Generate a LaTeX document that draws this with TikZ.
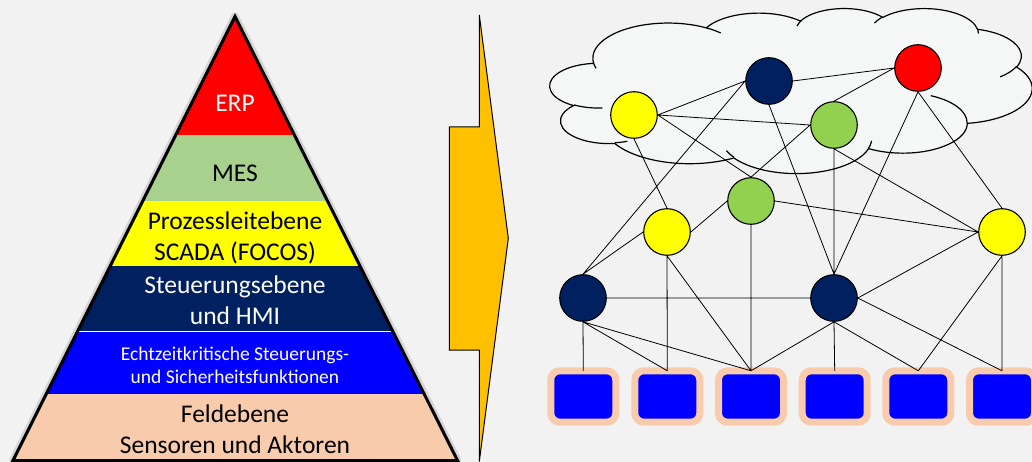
\documentclass[tikz,border=0pt]{standalone}
\usepackage{fontspec}
\setmainfont{Carlito}
\definecolor{bg}{HTML}{F2F2F2}
\definecolor{cloudfill}{HTML}{F5F6F6}
\definecolor{erpred}{HTML}{FF0000}
\definecolor{mesgreen}{HTML}{A9D18E}
\definecolor{scadayellow}{HTML}{FFFF00}
\definecolor{navy}{HTML}{002060}
\definecolor{rtblue}{HTML}{0000FF}
\definecolor{peach}{HTML}{F8CBAD}
\definecolor{arrowc}{HTML}{FFC000}
\definecolor{ngreen}{HTML}{92D050}
\tikzset{
  ooarc/.style args={#1/#2/#3/#4}{insert path={
    arc[start angle={atan2(#1*sin(#3),#2*cos(#3))},
        delta angle={mod(atan2(#1*sin(#3+#4),#2*cos(#3+#4))-atan2(#1*sin(#3),#2*cos(#3))+720,360)},
        x radius=#1, y radius=#2]}},
  lvl/.style={font=\fontsize{25.5}{31}\selectfont, anchor=base, inner sep=0pt},
  lvlsmall/.style={font=\fontsize{19.5}{24}\selectfont, anchor=base, inner sep=0pt},
  net/.style={circle, draw=black, line width=1.1pt, minimum size=46.6pt, inner sep=0pt},
  dev/.style={rectangle, rounded corners=9pt, fill=rtblue, draw=peach, line width=7pt,
              minimum width=65pt, minimum height=51.4pt, inner sep=0pt, outer sep=0pt},
  link/.style={draw=black, line width=0.8pt},
}
\begin{document}
\begin{tikzpicture}[x=1pt, y=-1pt]
\useasboundingbox (0,0) rectangle (1032,462);
\fill[bg] (0,0) rectangle (1032,462);

% ---------- pyramid ----------
\coordinate (apex) at (235,16.5);
\coordinate (bl) at (13,460.5);
\coordinate (br) at (457.5,460.5);
\draw[black, opacity=0.12, line width=8pt, line join=round, shift={(1.5,1.5)}] (apex) -- (bl) -- (br) -- cycle;
\begin{scope}
  \clip (apex) -- (bl) -- (br) -- cycle;
  \fill[erpred] (0,0) rectangle (470,135);
  \fill[mesgreen] (0,135) rectangle (470,201);
  \fill[scadayellow] (0,201) rectangle (470,266);
  \fill[navy] (0,266) rectangle (470,331);
  \fill[rtblue] (0,331) rectangle (470,394);
  \fill[peach] (0,394) rectangle (470,462);
  \draw[white, line width=1pt] (0,331) -- (470,331);
\end{scope}
\draw[black, line width=3pt, line join=miter] (apex) -- (bl) -- (br) -- cycle;

\node[lvl, text=white] (erp) at (235,111.7) {ERP};
\node[lvl] (mes) at (235,181.7) {MES};
\node[lvl] (pl1) at (235,229.3) {Prozessleitebene};
\node[lvl] (pl2) at (235,260) {SCADA (FOCOS)};
\node[lvl, text=white] (st1) at (235,293.3) {Steuerungsebene};
\node[lvl, text=white] (st2) at (235,324) {und HMI};
\node[lvlsmall, text=white] (ez1) at (235,360) {Echtzeitkritische Steuerungs-};
\node[lvlsmall, text=white] (ez2) at (235,383.3) {und Sicherheitsfunktionen};
\node[lvl] (fe1) at (235,422.7) {Feldebene};
\node[lvl] (fe2) at (235,453.3) {Sensoren und Aktoren};

% ---------- arrow ----------
\draw[fill=arrowc, line width=1pt, line join=miter]
  (479.3,15) -- (508.3,238.3) -- (479.3,461.5) -- (479.3,350) -- (449.3,350)
  -- (449.3,127) -- (479.3,127) -- cycle;

% ---------- cloud ----------
\begin{scope}[shift={(550,8)}, x=11.1574pt, y=-3.8194pt]
  \draw[line width=1.2pt, fill=cloudfill] (3.9,14.37)
    [ooarc=6.753/9.19/-190.4875/123.7805]
    [ooarc=5.333/7.267/-144.1024/89.9452]
    [ooarc=4.365/5.945/-145.8079/99.7230]
    [ooarc=4.857/6.595/-130.9861/117.2417]
    [ooarc=5.333/7.273/-78.7089/109.0269]
    [ooarc=6.775/9.22/-46.2673/130.2690]
    [ooarc=5.785/7.867/0.6250/114.0333]
    [ooarc=6.752/9.215/22.4516/115.1726]
    [ooarc=7.72/10.543/66.2426/75.7110]
    [ooarc=4.36/5.918/-274.9421/146.7356]
    [ooarc=4.345/5.945/-246.8285/152.5189] -- cycle;
  \draw[line width=1.2pt]
    (4.693,26.177) [ooarc=4.345/5.945/86.7420/26.4295]
    (6.928,34.899) [ooarc=4.36/5.918/73.6105/11.4475]
    (16.478,39.09) [ooarc=6.752/9.215/137.6242/14.0811]
    (28.827,34.751) [ooarc=6.752/9.215/6.4533/15.9984]
    (34.129,22.954) [ooarc=5.785/7.867/-70.2924/70.9174]
    (41.798,15.354) [ooarc=5.333/7.273/30.3180/27.7515]
    (38.324,5.426) [ooarc=4.857/6.595/-13.7443/14.8538]
    (29.078,3.952) [ooarc=4.857/6.595/-149.1815/18.1959]
    (22.141,4.72) [ooarc=4.365/5.945/-163.4943/17.6918]
    (14.0,5.192) [ooarc=6.753/9.19/-66.7070/12.3194]
    (4.127,15.789) [ooarc=6.753/9.19/157.6544/11.8582];
\end{scope}

% ---------- network ----------
\node[net, fill=navy] (n1) at (769,81) {};
\node[net, fill=erpred] (r1) at (918,68) {};
\node[net, fill=scadayellow] (y1) at (634,115) {};
\node[net, fill=ngreen] (g1) at (834,125) {};
\node[net, fill=ngreen] (g2) at (751,201) {};
\node[net, fill=scadayellow] (y2) at (667,232) {};
\node[net, fill=scadayellow] (y3) at (1002,232) {};
\node[net, fill=navy] (n2) at (583,298) {};
\node[net, fill=navy] (n3) at (834,298) {};

\node[dev] (b1) at (583.3,396.5) {};
\node[dev] (b2) at (667.3,396.5) {};
\node[dev] (b3) at (751,396.5) {};
\node[dev] (b4) at (834.7,396.5) {};
\node[dev] (b5) at (918.3,396.5) {};
\node[dev] (b6) at (1002,396.5) {};

\path[link]
  (n1.west) -- (y1.east)
  (n1.west) -- (n2.north)
  (n1.east) -- (r1.west)
  (n1.south) -- (n3.north)
  (r1.west) -- (g1.north)
  (r1.south) -- (n3.north)
  (r1.south) -- (y3.north)
  (y1.east) -- (g1.west)
  (y1.east) -- (g2.north)
  (y1.south) -- (y2.north)
  (g1.west) -- (g2.north)
  (g1.south) -- (n3.north)
  (g1.south) -- (y3.west)
  (g2.east) -- (y3.west)
  (g2.west) -- (y2.east)
  (g2.south) -- (b3.north)
  (n2.north) -- (y2.west)
  (y3.west) -- (n3.east)
  (y3.south) -- (b5.north)
  (y3.south) -- (b6.north)
  (y2.south) -- (b2.north)
  (y2.south) -- (b3.north)
  (n2.east) -- (n3.west)
  (n2.south) -- (b1.north)
  (n2.south) -- (b2.north)
  (n2.south) -- (b3.north)
  (n3.south) -- (b3.north)
  (n3.south) -- (b4.north)
  (n3.south) -- (b5.north)
  (n3.east) -- (b6.north);
\end{tikzpicture}
\end{document}
